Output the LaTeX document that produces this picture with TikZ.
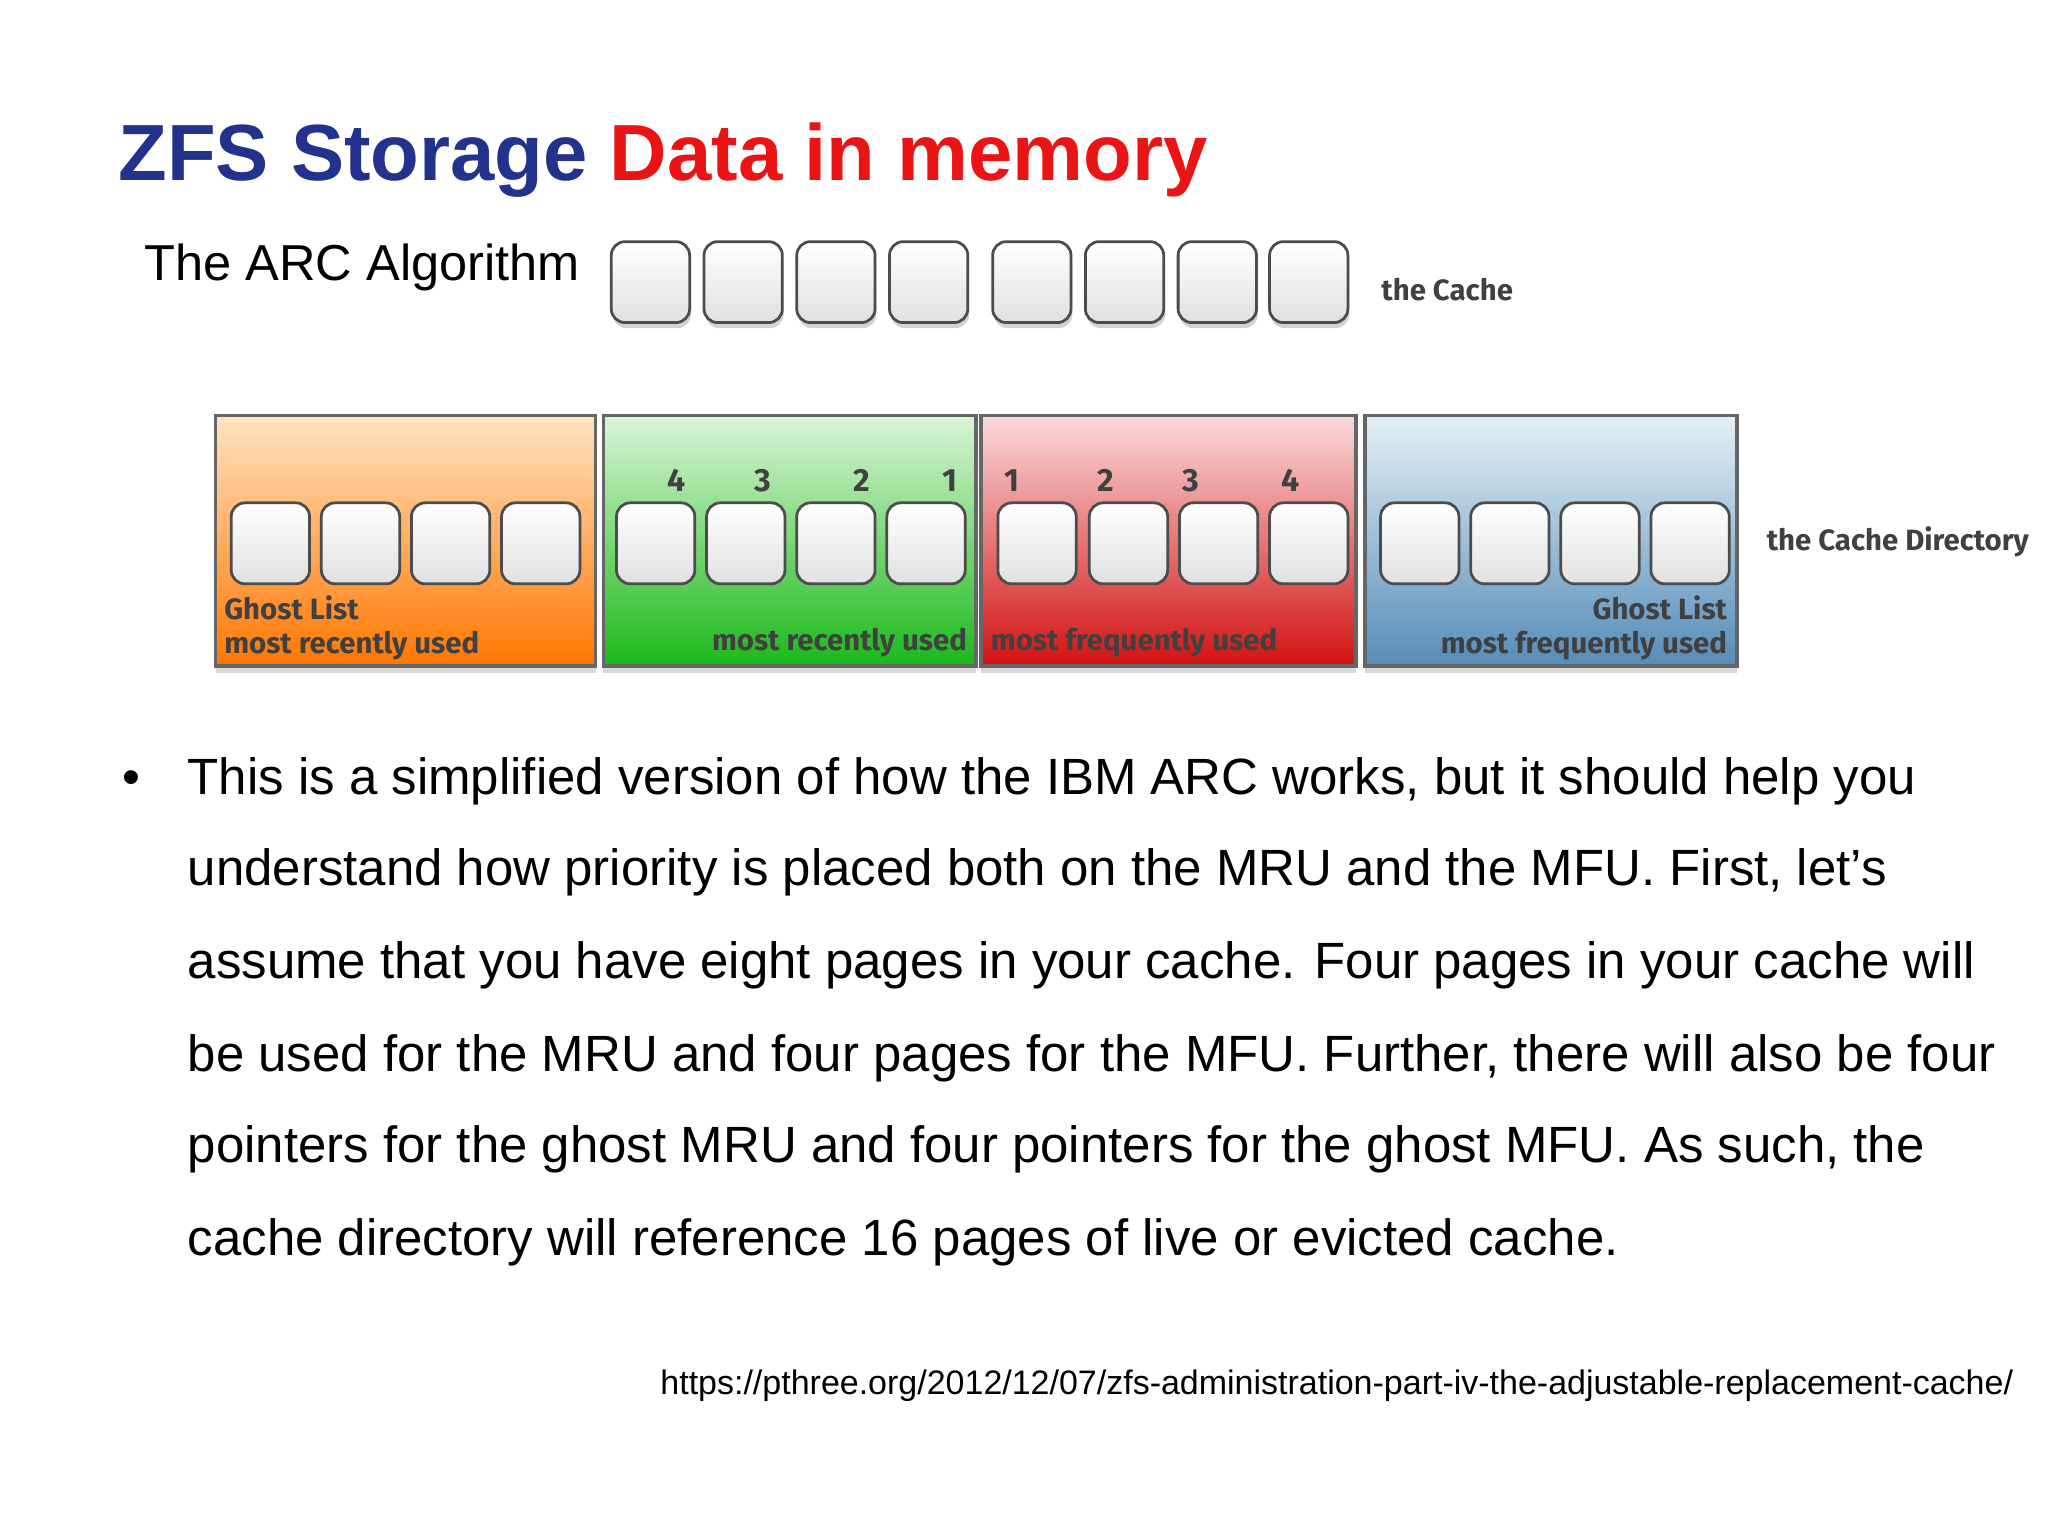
\documentclass[tikz,border=0pt]{standalone}
\usepackage{fontspec}
\setmainfont{Liberation Sans}
\newfontfamily\lblfont{Fira Sans}
\usetikzlibrary{shadows}
\definecolor{ztblue}{RGB}{35,50,140}
\definecolor{ztred}{RGB}{235,20,20}
\tikzset{
  cbox/.style={draw=black!70,rounded corners=3pt,top color=white,bottom color=black!12,line width=0.6pt},
  cshadow/.style={cbox,drop shadow={shadow xshift=0.3pt,shadow yshift=-1.2pt,opacity=0.35}},
  panel/.style={draw=black!60,line width=0.8pt,drop shadow={shadow xshift=0pt,shadow yshift=-1.5pt,opacity=0.3}},
  lbl/.style={font=\lblfont\bfseries\fontsize{6.4}{8}\selectfont,text=black!75,inner sep=0pt},
  body/.style={font=\fontsize{11.1}{12}\selectfont,anchor=base west,inner sep=0pt}
}
\begin{document}
\begin{tikzpicture}[x=0.01cm,y=-0.01cm]
\useasboundingbox[fill=white] (0,0) rectangle (1568,1176);
\node[anchor=base west,inner sep=0pt,font=\bfseries\fontsize{17.35}{20}\selectfont] (title) at (90,138) {\textcolor{ztblue}{ZFS Storage} \textcolor{ztred}{Data in memory}};
\node[anchor=base west,inner sep=0pt,font=\fontsize{11}{13}\selectfont] (arc) at (110,215) {The ARC Algorithm};
% cache
\foreach \x [count=\i] in {468,539,610,681,760,831,902,972}
  \draw[cshadow] (\x,185) rectangle ++(60,62) node[pos=.5,inner sep=0pt] (c\i) {};
\node[lbl,anchor=west] (thecache) at (1057,222) {the Cache};
% panels
\draw[panel,top color={rgb,255:red,255;green,228;blue,195},bottom color={rgb,255:red,255;green,118;blue,0}] (165,318) rectangle (456,510) node[pos=.5] (po) {};
\draw[panel,top color={rgb,255:red,220;green,245;blue,215},bottom color={rgb,255:red,25;green,185;blue,25}] (462,318) rectangle (747,510) node[pos=.5] (pg) {};
\draw[panel,top color={rgb,255:red,250;green,218;blue,218},bottom color={rgb,255:red,210;green,18;blue,18}] (751,318) rectangle (1038,510) node[pos=.5] (pr) {};
\draw[panel,top color={rgb,255:red,228;green,240;blue,246},bottom color={rgb,255:red,85;green,140;blue,185}] (1045,318) rectangle (1330,510) node[pos=.5] (pb) {};
\foreach \x [count=\i] in {177,246,315,384,472,541,610,679,764,834,903,972,1057,1126,1195,1264}
  \draw[cbox] (\x,385) rectangle ++(60,62) node[pos=.5,inner sep=0pt] (d\i) {};
\foreach \x/\n [count=\i] in {518/4,584/3,660/2,727/1,775/1,847/2,912/3,988/4}
  \node[lbl,font=\lblfont\bfseries\fontsize{7}{8}\selectfont] (n\i) at (\x,368) {\n};
\node[lbl,anchor=west] (og) at (171,465) {Ghost List};
\node[lbl,anchor=west] (om) at (171,494) {most recently used};
\node[lbl,anchor=east] (gm) at (741,492) {most recently used};
\node[lbl,anchor=west] (rm) at (758,492) {most frequently used};
\node[lbl,anchor=east] (bg) at (1323,465) {Ghost List};
\node[lbl,anchor=east] (bm) at (1323,494) {most frequently used};
\node[lbl,anchor=west] (thedir) at (1352,415) {the Cache Directory};
% body
\node[body] (bul) at (93,608) {•};
\node[body] (l1) at (143,608) {This is a simplified version of how the IBM ARC works, but it should help you};
\node[body] (l2) at (143,678) {understand how priority is placed both on the MRU and the MFU. First, let\char"0027s};
\node[body] (l3) at (143,749) {assume that you have eight pages in your cache. Four pages in your cache will};
\node[body] (l4) at (143,820) {be used for the MRU and four pages for the MFU. Further, there will also be four};
\node[body] (l5) at (143,890) {pointers for the ghost MRU and four pointers for the ghost MFU. As such, the};
\node[body] (l6) at (143,961) {cache directory will reference 16 pages of live or evicted cache.};
\node[anchor=base east,inner sep=0pt,font=\fontsize{7.4}{8}\selectfont] (url) at (1542,1068) {https://pthree.org/2012/12/07/zfs-administration-part-iv-the-adjustable-replacement-cache/};
\end{tikzpicture}
\end{document}
